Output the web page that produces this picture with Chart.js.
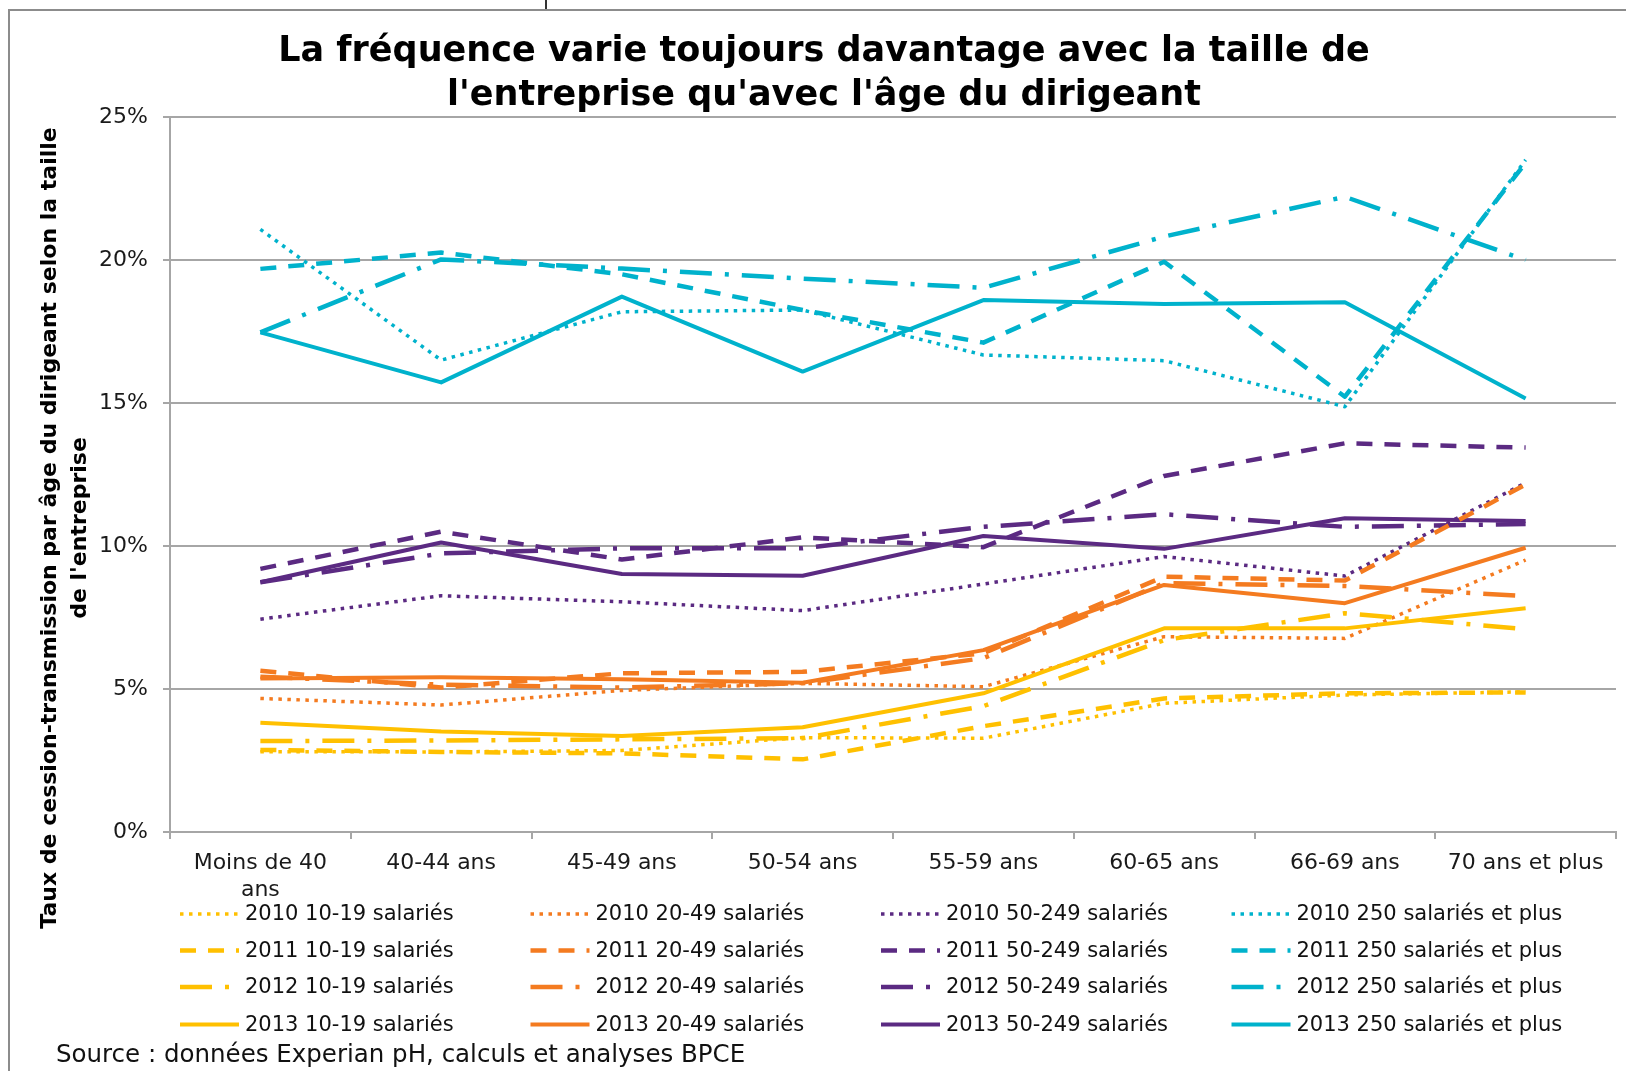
<!DOCTYPE html>
<html>
<head>
<meta charset="utf-8">
<script src="https://cdn.jsdelivr.net/npm/chart.js@4.4.1/dist/chart.umd.min.js"></script>
<style>
  html, body { margin: 0; padding: 0; background: #fff; }
  #wrap { position: relative; width: 1626px; height: 1071px; }
  canvas { display: block; }
</style>
</head>
<body>
<div id="wrap"><canvas id="c" width="1626" height="1071"></canvas></div>
<script>
// ---- Data ----
const categories = [['Moins de 40', 'ans'], '40-44 ans', '45-49 ans', '50-54 ans', '55-59 ans', '60-65 ans', '66-69 ans', '70 ans et plus'];
const years = ['2010', '2011', '2012', '2013'];
const sizes = ['10-19 salariés', '20-49 salariés', '50-249 salariés', '250 salariés et plus'];

const s2010_10_19 = [2.81, 2.80, 2.85, 3.30, 3.28, 4.50, 4.79, 4.90];
const s2011_10_19 = [2.87, 2.80, 2.75, 2.54, 3.70, 4.67, 4.85, 4.88];
const s2012_10_19 = [3.18, 3.20, 3.24, 3.28, 4.40, 6.71, 7.65, 7.09];
const s2013_10_19 = [3.82, 3.51, 3.36, 3.66, 4.85, 7.12, 7.12, 7.82];

const s2010_20_49 = [4.67, 4.44, 4.95, 5.20, 5.08, 6.83, 6.77, 9.51];
const s2011_20_49 = [5.64, 5.05, 5.55, 5.60, 6.25, 8.93, 8.79, 12.15];
const s2012_20_49 = [5.43, 5.15, 5.05, 5.20, 6.08, 8.70, 8.60, 8.25];
const s2013_20_49 = [5.37, 5.41, 5.34, 5.22, 6.36, 8.64, 8.00, 9.94];

const s2010_50_249 = [7.44, 8.26, 8.05, 7.74, 8.67, 9.63, 8.95, 12.21];
const s2011_50_249 = [9.20, 10.50, 9.53, 10.30, 9.96, 12.45, 13.59, 13.44];
const s2012_50_249 = [8.73, 9.74, 9.92, 9.92, 10.67, 11.11, 10.67, 10.77];
const s2013_50_249 = [8.73, 10.12, 9.02, 8.96, 10.35, 9.90, 10.97, 10.87];

const s2010_250 = [21.07, 16.50, 18.19, 18.25, 16.68, 16.48, 14.87, 23.50];
const s2011_250 = [19.69, 20.26, 19.50, 18.25, 17.11, 19.94, 15.22, 23.40];
const s2012_250 = [17.47, 20.02, 19.70, 19.35, 19.03, 20.82, 22.21, 20.00];
const s2013_250 = [17.47, 15.72, 18.72, 16.10, 18.60, 18.46, 18.52, 15.16];

const yTicks = [0, 5, 10, 15, 20, 25];

const seriesBySize = [
  [s2010_10_19, s2011_10_19, s2012_10_19, s2013_10_19],
  [s2010_20_49, s2011_20_49, s2012_20_49, s2013_20_49],
  [s2010_50_249, s2011_50_249, s2012_50_249, s2013_50_249],
  [s2010_250, s2011_250, s2012_250, s2013_250]
];

// ---- Styles ----
const sizeColors = ['#FFC000', '#F47B20', '#5B2A82', '#00B2CC'];
const yearStyles = [
  { dash: [3.5, 5.5], width: 3.5, cap: 'butt' },        // 2010 dotted
  { dash: [16, 12], width: 4.5, cap: 'butt' },          // 2011 dashed
  { dash: [32, 13, 4, 13], width: 4.5, cap: 'butt' },   // 2012 dash-dot
  { dash: [], width: 4, cap: 'butt' }                   // 2013 solid
];

const datasets = [];
for (let si = 0; si < sizes.length; si++) {
  for (let yi = 0; yi < years.length; yi++) {
    datasets.push({
      label: years[yi] + ' ' + sizes[si],
      data: seriesBySize[si][yi],
      borderColor: sizeColors[si],
      backgroundColor: sizeColors[si],
      borderWidth: yearStyles[yi].width,
      borderDash: yearStyles[yi].dash,
      borderCapStyle: yearStyles[yi].cap,
      borderJoinStyle: 'round',
      pointRadius: 0,
      pointHoverRadius: 0,
      tension: 0,
      fill: false,
      _col: si,
      _row: yi
    });
  }
}

const FONT = '"DejaVu Sans", Verdana, sans-serif';

const decorPlugin = {
  id: 'decor',
  beforeDraw(chart) {
    const ctx = chart.ctx;
    ctx.save();
    ctx.fillStyle = '#fff';
    ctx.fillRect(0, 0, chart.width, chart.height);
    // frame
    ctx.strokeStyle = '#8c8c8c';
    ctx.lineWidth = 2;
    ctx.beginPath();
    ctx.moveTo(9, 1071);
    ctx.lineTo(9, 10);
    ctx.lineTo(1626, 10);
    ctx.stroke();
    ctx.strokeStyle = '#333';
    ctx.lineWidth = 2;
    ctx.beginPath();
    ctx.moveTo(546, 0);
    ctx.lineTo(546, 9);
    ctx.stroke();
    ctx.restore();
  },
  afterDraw(chart) {
    const ctx = chart.ctx;
    ctx.save();
    // Title
    ctx.fillStyle = '#000';
    ctx.textAlign = 'center';
    ctx.textBaseline = 'middle';
    ctx.font = 'bold 35px ' + FONT;
    ctx.fillText('La fréquence varie toujours davantage avec la taille de', 824, 52);
    ctx.fillText("l'entreprise qu'avec l'âge du dirigeant", 824, 96);

    // Y title
    ctx.save();
    ctx.translate(50, 528);
    ctx.rotate(-Math.PI / 2);
    ctx.font = 'bold 22px ' + FONT;
    ctx.fillText('Taux de cession-transmission par âge du dirigeant selon la taille', 0, 0);
    ctx.fillText("de l'entreprise", 0, 30);
    ctx.restore();

    // Legend
    const colX = [180, 530.5, 881, 1231.5];
    const rowY = [914, 950.5, 987, 1024.5];
    ctx.textAlign = 'left';
    ctx.textBaseline = 'middle';
    ctx.font = '21px ' + FONT;
    chart.data.datasets.forEach(ds => {
      const x = colX[ds._col];
      const y = rowY[ds._row];
      ctx.save();
      ctx.strokeStyle = ds.borderColor;
      ctx.lineWidth = ds.borderWidth;
      ctx.lineCap = ds.borderCapStyle;
      ctx.setLineDash(ds.borderDash);
      ctx.beginPath();
      ctx.moveTo(x, y);
      ctx.lineTo(x + 59, y);
      ctx.stroke();
      ctx.restore();
      ctx.fillStyle = '#111';
      ctx.fillText(ds.label, x + 65, y + 1);
    });

    // Source
    ctx.font = '24.5px ' + FONT;
    ctx.fillStyle = '#111';
    ctx.fillText('Source : données Experian pH, calculs et analyses BPCE', 56, 1056);
    ctx.restore();
  }
};

new Chart(document.getElementById('c'), {
  type: 'line',
  data: { labels: categories, datasets: datasets },
  options: {
    responsive: false,
    devicePixelRatio: 1,
    animation: false,
    events: [],
    layout: { padding: { left: 0, right: 10, top: 117, bottom: 0 } },
    plugins: {
      legend: { display: false },
      title: { display: false },
      tooltip: { enabled: false }
    },
    scales: {
      x: {
        type: 'category',
        offset: true,
        grid: {
          offset: true,
          drawOnChartArea: false,
          drawTicks: true,
          tickLength: 7,
          color: '#a6a6a6',
          lineWidth: 2
        },
        border: { display: true, color: '#a6a6a6', width: 2 },
        ticks: {
          autoSkip: false,
          maxRotation: 0,
          minRotation: 0,
          padding: 11,
          color: '#1a1a1a',
          font: { family: FONT, size: 22, lineHeight: 1.22 }
        },
        afterFit(scale) { scale.height = 239; }
      },
      y: {
        min: 0,
        max: 25,
        afterBuildTicks(scale) { scale.ticks = yTicks.map(v => ({ value: v })); },
        grid: {
          drawTicks: true,
          tickLength: 7,
          color: '#a6a6a6',
          lineWidth: 2
        },
        border: { display: true, color: '#a6a6a6', width: 2 },
        ticks: {
          padding: 15,
          color: '#1a1a1a',
          font: { family: FONT, size: 22 },
          callback: v => v + '%'
        },
        afterFit(scale) { scale.width = 170; }
      }
    }
  },
  plugins: [decorPlugin]
});
</script>
</body>
</html>
